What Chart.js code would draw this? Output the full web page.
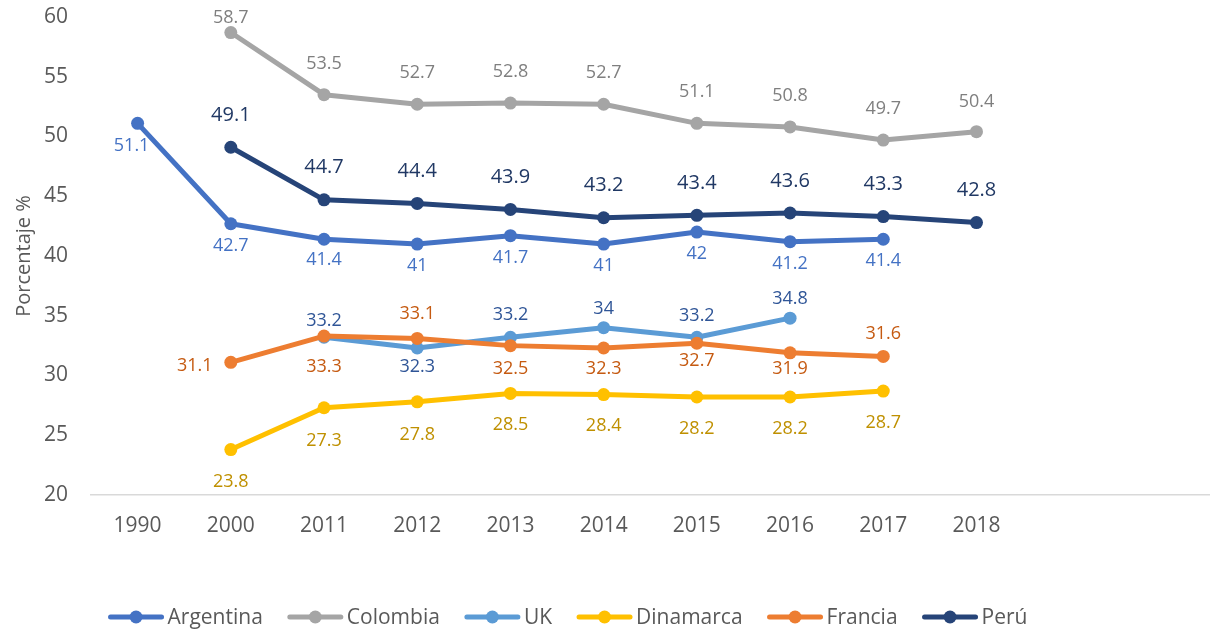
<!DOCTYPE html>
<html><head><meta charset="utf-8">
<script src="https://cdn.jsdelivr.net/npm/chart.js@4.4.1/dist/chart.umd.min.js"></script>
<style>html,body{margin:0;padding:0;background:#fff}#wrap{width:1216px;height:630px;position:relative}canvas{display:block}</style>
</head><body><div id="wrap"><canvas id="c" width="1216" height="630" style="width:1216px;height:630px"></canvas></div>
<script>
// ---- data ----
const years = ['1990','2000','2011','2012','2013','2014','2015','2016','2017','2018','',''];
const argentina = [51.1,42.7,41.4,41,41.7,41,42,41.2,41.4,null,null,null];
const colombia  = [null,58.7,53.5,52.7,52.8,52.7,51.1,50.8,49.7,50.4,null,null];
const uk        = [null,null,33.2,32.3,33.2,34,33.2,34.8,null,null,null,null];
const dinamarca = [null,23.8,27.3,27.8,28.5,28.4,28.2,28.2,28.7,null,null,null];
const francia   = [null,31.1,33.3,33.1,32.5,32.3,32.7,31.9,31.6,null,null,null];
const peru      = [null,49.1,44.7,44.4,43.9,43.2,43.4,43.6,43.3,42.8,null,null];
const seriesNames = ['Argentina','Colombia','UK','Dinamarca','Francia','Perú'];
const yTicks = [20,25,30,35,40,45,50,55,60];

// ---- styles ----
const lineColors  = ['#4472C4','#A5A5A5','#5B9BD5','#FFC000','#ED7D31','#264478'];
const labelColors = ['#4472C4','#7F7F7F','#2F5597','#BF9000','#C55A11','#203864'];
const labelSizes  = [18,18,18,18,18,20];
// label offsets [dx, dy] from each point
const A = (dx,dy)=>[dx,dy];
const labelOffsets = [
  [A(-6,23),A(0,22),A(0,21),A(0,22),A(0,22),A(0,22),A(0,22),A(0,22),A(0,22)],
  [null,A(0,-15),A(0,-31),A(0,-31),A(0,-31),A(0,-31),A(0,-31),A(0,-31),A(0,-31),A(0,-30)],
  [null,null,A(0,-16),A(0,19),A(0,-22),A(0,-19),A(0,-21),A(0,-19)],
  [null,A(0,32),A(0,33),A(0,33),A(0,31),A(0,31),A(0,32),A(0,32),A(0,32)],
  [null,A(-36,4),A(0,31),A(0,-25),A(0,23),A(0,21),A(0,18),A(0,16),A(0,-23)],
  [null,A(0,-32),A(0,-33),A(0,-32),A(0,-32),A(0,-32),A(0,-32),A(0,-32),A(0,-32),A(0,-32)]
];
const FONT = "'Open Sans', 'DejaVu Sans', sans-serif";
const seriesData = [argentina, colombia, uk, dinamarca, francia, peru];

const dataLabels = {
  id: 'dataLabels',
  afterDatasetsDraw(chart) {
    const ctx = chart.ctx;
    ctx.save();
    ctx.textAlign = 'center';
    ctx.textBaseline = 'middle';
    chart.data.datasets.forEach((ds, i) => {
      const meta = chart.getDatasetMeta(i);
      ctx.fillStyle = labelColors[i];
      ctx.font = labelSizes[i] + 'px ' + FONT;
      meta.data.forEach((pt, j) => {
        const v = ds.data[j];
        if (v === null || v === undefined) return;
        const off = (labelOffsets[i] && labelOffsets[i][j]) || [0, -20];
        ctx.fillText(String(v), pt.x + off[0], pt.y + off[1]);
      });
    });
    ctx.restore();
  }
};

const customLegend = {
  id: 'customLegend',
  afterDraw(chart) {
    const ctx = chart.ctx;
    ctx.save();
    ctx.font = '21px ' + FONT;
    ctx.textBaseline = 'middle';
    const marker = 55, gap = 4, spacing = 25, y = 617;
    const widths = seriesNames.map(n => marker + gap + ctx.measureText(n).width);
    const total = widths.reduce((a,b)=>a+b,0) + spacing*(seriesNames.length-1);
    let x = 568 - total/2;
    seriesNames.forEach((n, i) => {
      ctx.strokeStyle = lineColors[i];
      ctx.lineWidth = 5;
      ctx.lineCap = 'round';
      ctx.beginPath(); ctx.moveTo(x+2, y); ctx.lineTo(x+marker-2, y); ctx.stroke();
      ctx.fillStyle = lineColors[i];
      ctx.beginPath(); ctx.arc(x+marker/2, y, 6.5, 0, Math.PI*2); ctx.fill();
      ctx.fillStyle = '#595959';
      ctx.textAlign = 'left';
      ctx.fillText(n, x + marker + gap, y + 1);
      x += widths[i] + spacing;
    });
    ctx.restore();
  }
};

new Chart(document.getElementById('c'), {
  type: 'line',
  data: {
    labels: years,
    datasets: seriesNames.map((n, i) => ({
      label: n,
      data: seriesData[i],
      borderColor: lineColors[i],
      backgroundColor: lineColors[i],
      borderWidth: 5,
      borderCapStyle: 'round',
      borderJoinStyle: 'round',
      pointRadius: 6.5,
      pointHoverRadius: 6.5,
      pointBorderWidth: 0,
      pointBackgroundColor: lineColors[i],
      tension: 0,
      spanGaps: false,
      order: seriesNames.length - i
    }))
  },
  options: {
    responsive: false,
    maintainAspectRatio: false,
    animation: false,
    devicePixelRatio: 1,
    layout: { padding: { top: 17, right: 5, bottom: 0, left: 0 } },
    plugins: { legend: { display: false }, tooltip: { enabled: false } },
    scales: {
      x: {
        offset: true,
        grid: { display: false, drawTicks: false },
        border: { display: true, color: '#D9D9D9', width: 1.5 },
        ticks: { color: '#595959', font: { family: FONT, size: 21 }, padding: 18, maxRotation: 0, autoSkip: false },
        afterFit(scale) { scale.height = 135; }
      },
      y: {
        min: 20, max: 60,
        afterBuildTicks(scale) { scale.ticks = yTicks.map(v => ({ value: v })); },
        grid: { display: true, drawOnChartArea: false, drawTicks: true, tickLength: 23, tickColor: 'rgba(0,0,0,0)' },
        border: { display: false },
        ticks: { color: '#595959', font: { family: FONT, size: 21 }, padding: 0 },
        title: { display: true, text: 'Porcentaje %', color: '#595959', font: { family: FONT, size: 20 }, padding: { top: 12, bottom: 0 } },
        afterFit(scale) { scale.width = 91; }
      }
    }
  },
  plugins: [dataLabels, customLegend]
});
</script>
</body></html>
